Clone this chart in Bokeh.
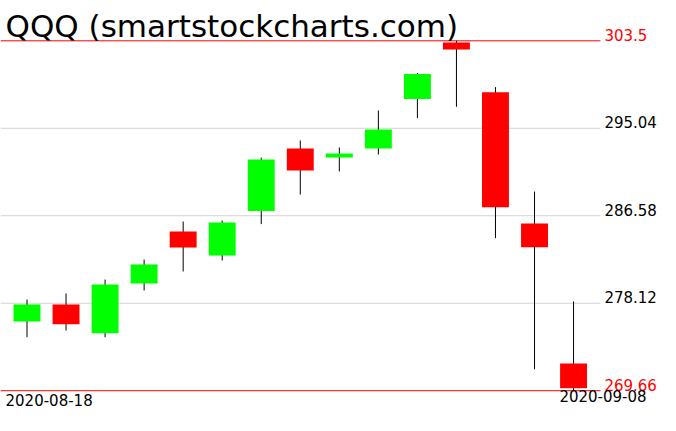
from bokeh.plotting import figure
from bokeh.models import Range1d, Label, ColumnDataSource
from bokeh.core.properties import value
from bokeh.embed import file_html
from bokeh.resources import INLINE

dates = ["2020-08-18", "2020-08-19", "2020-08-20", "2020-08-21", "2020-08-24",
         "2020-08-25", "2020-08-26", "2020-08-27", "2020-08-28", "2020-08-31",
         "2020-09-01", "2020-09-02", "2020-09-03", "2020-09-04", "2020-09-08"]
opens = [276.35, 278.00, 275.22, 280.03, 285.06, 282.74, 287.03, 293.08, 292.21,
         293.08, 297.86, 303.33, 298.53, 285.83, 272.29]
highs = [278.48, 279.06, 280.41, 282.35, 286.02, 286.12, 292.21, 293.86, 293.18,
         296.76, 300.38, 303.50, 299.02, 288.92, 278.29]
lows = [274.83, 275.48, 274.83, 279.35, 281.19, 282.25, 285.77, 288.63, 290.86,
        292.50, 296.03, 297.12, 284.41, 271.74, 269.66]
closes = [278.00, 276.09, 279.93, 281.86, 283.51, 285.93, 292.02, 290.96, 292.60,
          294.92, 300.28, 302.65, 287.41, 283.54, 269.90]

level_values = [303.5, 295.04, 286.58, 278.12, 269.66]
level_labels = ["303.5", "295.04", "286.58", "278.12", "269.66"]
level_kind = ["extreme", "grid", "grid", "grid", "extreme"]
title_text = "QQQ (smartstockcharts.com)"

UP = "#00ff00"
DOWN = "#ff0000"
n = len(dates)
idx = list(range(n))
span = max(highs) - min(lows)

W, H = 660, 415
step = 39.04  # pixels per candle slot
x_start = -26.5 / step
x_end = x_start + W / step
y_start = min(lows) - 0.0709 * span
y_end = max(highs) + 0.1152 * span
ppu = H / (y_end - y_start)  # pixels per price unit

p = figure(width=W, height=H, output_backend="svg", toolbar_location=None,
           x_range=Range1d(x_start, x_end), y_range=Range1d(y_start, y_end),
           min_border=0, background_fill_color="white", border_fill_color="white")
p.xaxis.visible = False
p.yaxis.visible = False
p.grid.visible = False
p.outline_line_color = None

# horizontal level lines
line_end = (n - 1) + 0.69
for v, k in zip(level_values, level_kind):
    col = "#ff0000" if k == "extreme" else "#d3d3d3"
    p.segment(x0=[x_start], y0=[v], x1=[line_end], y1=[v], line_color=col, line_width=1)

# wicks
p.segment(x0=idx, y0=lows, x1=idx, y1=highs, line_color="black", line_width=1)

# bodies
colors = [UP if c >= o else DOWN for o, c in zip(opens, closes)]
src = ColumnDataSource(dict(x=idx, top=[max(o, c) for o, c in zip(opens, closes)],
                            bottom=[min(o, c) for o, c in zip(opens, closes)], color=colors))
p.vbar(x="x", top="top", bottom="bottom", width=0.69, fill_color="color",
       line_color=None, source=src)

# level labels (sit just above their line)
lab_colors = ["#ff0000" if k == "extreme" else "black" for k in level_kind]
lsrc = ColumnDataSource(dict(x=[(n - 1) + 0.79] * len(level_values),
                             y=[v + 6.0 / ppu for v in level_values],
                             t=level_labels, c=lab_colors))
p.text(x="x", y="y", text="t", text_color="c", source=lsrc,
       text_font=value("DejaVu Sans"), text_font_size="15px",
       text_baseline="alphabetic", text_align="left")

# date labels
p.add_layout(Label(x=x_start + 5 / step, y=min(lows) - 9.8 / ppu, text=dates[0],
                   text_font="DejaVu Sans", text_font_size="15px",
                   text_baseline="alphabetic", text_align="left", text_color="black"))
p.add_layout(Label(x=(n - 1) + 1.87, y=min(lows) - 5.0 / ppu, text=dates[-1],
                   text_font="DejaVu Sans", text_font_size="15px",
                   text_baseline="alphabetic", text_align="right", text_color="black"))

# title
p.add_layout(Label(x=x_start + 5 / step, y=max(highs) + 14.5 / ppu, text=title_text,
                   text_font="DejaVu Sans", text_font_size="31px",
                   text_baseline="alphabetic", text_align="left", text_color="black"))

open("out.html", "w").write(file_html(p, INLINE))
